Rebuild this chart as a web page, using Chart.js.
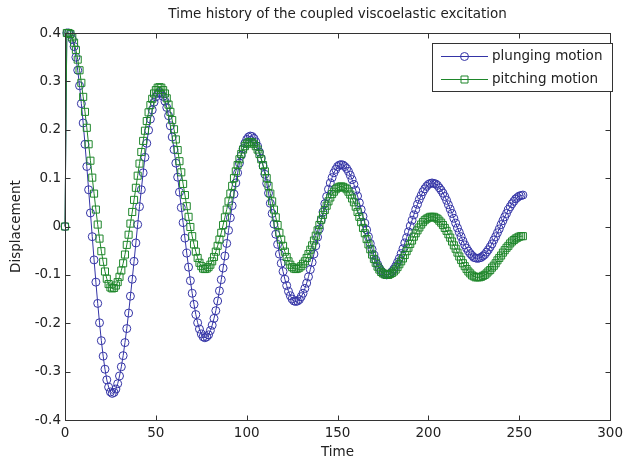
<!DOCTYPE html>
<html>
<head>
<meta charset="utf-8">
<script src="https://cdn.jsdelivr.net/npm/chart.js@4.4.0/dist/chart.umd.min.js"></script>
<style>
  html, body { margin: 0; padding: 0; background: #fff; }
</style>
</head>
<body>
<canvas id="myChart" width="628" height="462"></canvas>
<script>
// sampled once per time unit, starting at t = 0
var t0 = 0;
var dt = 1;

var plunging = [
  0, 0.4,
  0.400, 0.397, 0.387, 0.372, 0.350, 0.323, 0.291, 0.254, 0.214, 0.170, 0.124, 0.076, 0.028,
  -0.021, -0.069, -0.115, -0.159, -0.199, -0.236, -0.268, -0.295, -0.317, -0.332, -0.342, -0.345,
  -0.343, -0.336, -0.325, -0.309, -0.290, -0.267, -0.240, -0.211, -0.179, -0.144, -0.109, -0.072, -0.034,
  0.004, 0.041, 0.076, 0.111, 0.143, 0.172, 0.199, 0.222, 0.241, 0.257, 0.268, 0.275, 0.277,
  0.275, 0.269, 0.259, 0.246, 0.229, 0.208, 0.185, 0.159, 0.131, 0.102, 0.071, 0.039, 0.008,
  -0.024, -0.055, -0.084, -0.112, -0.138, -0.161, -0.182, -0.199, -0.212, -0.222, -0.228, -0.230,
  -0.228, -0.224, -0.215, -0.204, -0.190, -0.174, -0.154, -0.133, -0.110, -0.086, -0.061, -0.035, -0.008,
  0.018, 0.043, 0.067, 0.090, 0.111, 0.131, 0.147, 0.161, 0.172, 0.180, 0.185, 0.187,
  0.186, 0.182, 0.175, 0.166, 0.154, 0.141, 0.125, 0.108, 0.089, 0.069, 0.048, 0.027, 0.005,
  -0.016, -0.037, -0.057, -0.076, -0.093, -0.109, -0.122, -0.134, -0.143, -0.150, -0.154, -0.155,
  -0.154, -0.151, -0.145, -0.138, -0.128, -0.117, -0.104, -0.089, -0.074, -0.057, -0.040, -0.022, -0.005,
  0.013, 0.030, 0.047, 0.062, 0.077, 0.090, 0.101, 0.111, 0.118, 0.124, 0.127, 0.128,
  0.127, 0.124, 0.120, 0.114, 0.106, 0.097, 0.087, 0.075, 0.063, 0.049, 0.035, 0.021, 0.007,
  -0.007, -0.021, -0.035, -0.047, -0.059, -0.069, -0.078, -0.086, -0.092, -0.096, -0.099, -0.100,
  -0.099, -0.097, -0.093, -0.088, -0.082, -0.074, -0.066, -0.056, -0.046, -0.034, -0.023, -0.011, 0.001,
  0.013, 0.024, 0.035, 0.046, 0.056, 0.064, 0.072, 0.078, 0.083, 0.087, 0.089, 0.090,
  0.089, 0.088, 0.085, 0.080, 0.075, 0.069, 0.062, 0.054, 0.045, 0.036, 0.027, 0.017, 0.007,
  -0.003, -0.012, -0.021, -0.030, -0.038, -0.045, -0.051, -0.056, -0.060, -0.064, -0.065, -0.066,
  -0.065, -0.064, -0.061, -0.058, -0.053, -0.048, -0.042, -0.036, -0.028, -0.021, -0.013, -0.005,
  0.004, 0.012, 0.020, 0.027, 0.035, 0.041, 0.047, 0.052, 0.057, 0.060, 0.063, 0.064, 0.065
];

var pitching = [
  0, 0.4,
  0.400, 0.398, 0.391, 0.380, 0.365, 0.345, 0.323, 0.297, 0.268, 0.237, 0.204, 0.170, 0.136,
  0.101, 0.068, 0.035, 0.004, -0.025, -0.051, -0.073, -0.093, -0.108, -0.119, -0.126, -0.128,
  -0.127, -0.122, -0.115, -0.104, -0.091, -0.076, -0.058, -0.038, -0.017, 0.006, 0.030, 0.055, 0.080,
  0.105, 0.130, 0.154, 0.177, 0.198, 0.218, 0.236, 0.251, 0.264, 0.275, 0.282, 0.287, 0.288,
  0.287, 0.282, 0.275, 0.265, 0.252, 0.237, 0.220, 0.201, 0.180, 0.158, 0.135, 0.112, 0.088,
  0.065, 0.042, 0.020, -0.001, -0.020, -0.037, -0.052, -0.065, -0.075, -0.082, -0.087, -0.088,
  -0.087, -0.084, -0.079, -0.072, -0.063, -0.052, -0.040, -0.027, -0.013, 0.003, 0.019, 0.035, 0.052,
  0.068, 0.084, 0.100, 0.114, 0.127, 0.139, 0.150, 0.159, 0.166, 0.171, 0.174, 0.175,
  0.174, 0.171, 0.166, 0.159, 0.150, 0.139, 0.127, 0.114, 0.100, 0.084, 0.068, 0.052, 0.035,
  0.019, 0.003, -0.013, -0.027, -0.040, -0.052, -0.063, -0.072, -0.079, -0.084, -0.087, -0.088,
  -0.087, -0.085, -0.082, -0.077, -0.072, -0.065, -0.057, -0.048, -0.039, -0.029, -0.019, -0.008, 0.003,
  0.014, 0.024, 0.034, 0.043, 0.052, 0.060, 0.067, 0.072, 0.077, 0.080, 0.082, 0.083,
  0.082, 0.080, 0.077, 0.072, 0.066, 0.058, 0.050, 0.041, 0.030, 0.020, 0.009, -0.003, -0.014,
  -0.026, -0.037, -0.047, -0.058, -0.067, -0.075, -0.083, -0.089, -0.094, -0.097, -0.099, -0.100,
  -0.100, -0.098, -0.096, -0.093, -0.089, -0.084, -0.078, -0.072, -0.066, -0.059, -0.051, -0.044, -0.036,
  -0.029, -0.021, -0.014, -0.008, -0.002, 0.004, 0.009, 0.013, 0.016, 0.018, 0.020, 0.020,
  0.020, 0.018, 0.016, 0.012, 0.008, 0.003, -0.003, -0.009, -0.016, -0.023, -0.031, -0.039, -0.046,
  -0.054, -0.062, -0.069, -0.076, -0.082, -0.088, -0.093, -0.097, -0.101, -0.103, -0.105, -0.105,
  -0.105, -0.104, -0.102, -0.100, -0.097, -0.093, -0.090, -0.085, -0.081, -0.076, -0.070, -0.065,
  -0.060, -0.054, -0.049, -0.044, -0.040, -0.035, -0.031, -0.028, -0.025, -0.023, -0.021, -0.020, -0.020
];

var seriesNames = ["plunging motion", "pitching motion"];
var xTicks = [0, 50, 100, 150, 200, 250, 300];
var yTicks = [-0.4, -0.3, -0.2, -0.1, 0, 0.1, 0.2, 0.3, 0.4];

var blue = "#3434a6";
var green = "#1e862a";
var axisColor = "#333";
var textColor = "#222";
var fontFamily = "'DejaVu Sans', sans-serif";
var fontSize = 13.5;

function toPoints(arr) {
  return arr.map((v, i) => ({ x: t0 + i * dt, y: v }));
}

// matlab style box, inward ticks and legend inside the axes
const matlabBox = {
  id: "matlabBox",
  afterDraw(chart) {
    const { ctx, chartArea: a, scales } = chart;
    const xs = scales.x, ys = scales.y;
    const L = Math.round(a.left) + 0.5, R = Math.round(a.right) + 0.5;
    const T = Math.round(a.top) + 0.5, B = Math.round(a.bottom) + 0.5;
    ctx.save();
    ctx.strokeStyle = axisColor;
    ctx.lineWidth = 1;
    ctx.strokeRect(L, T, R - L, B - T);
    ctx.beginPath();
    xTicks.forEach((v) => {
      const px = Math.round(xs.getPixelForValue(v)) + 0.5;
      ctx.moveTo(px, B); ctx.lineTo(px, B - 5);
      ctx.moveTo(px, T); ctx.lineTo(px, T + 5);
    });
    yTicks.forEach((v) => {
      const py = Math.round(ys.getPixelForValue(v)) + 0.5;
      ctx.moveTo(L, py); ctx.lineTo(L + 5, py);
      ctx.moveTo(R, py); ctx.lineTo(R - 5, py);
    });
    ctx.stroke();

    // legend
    const bx = 432.5, by = 43.5, bw = 180, bh = 48;
    ctx.fillStyle = "#fff";
    ctx.fillRect(bx, by, bw, bh);
    ctx.strokeStyle = axisColor;
    ctx.strokeRect(bx, by, bw, bh);
    const rows = [56.5, 79.5];
    chart.data.datasets.forEach((ds, i) => {
      const y = rows[i];
      ctx.strokeStyle = ds.borderColor;
      ctx.lineWidth = 1;
      ctx.beginPath();
      ctx.moveTo(441, y); ctx.lineTo(488, y);
      ctx.stroke();
      ctx.beginPath();
      if (ds.pointStyle === "rect") {
        ctx.rect(461, y - 3.5, 7, 7);
      } else {
        ctx.arc(464.5, y, 4, 0, Math.PI * 2);
      }
      ctx.stroke();
      ctx.fillStyle = textColor;
      ctx.font = fontSize + "px " + fontFamily;
      ctx.textBaseline = "middle";
      ctx.textAlign = "left";
      ctx.fillText(ds.label, 492, y);
    });
    ctx.restore();
  },
};

function initChart() {
  const ctx = document.getElementById("myChart").getContext("2d");
  const myChart = new Chart(ctx, {
    type: "line",
    data: {
      datasets: [
        {
          label: seriesNames[0],
          data: toPoints(plunging),
          borderColor: blue,
          borderWidth: 1,
          pointStyle: "circle",
          pointRadius: 4,
          pointBorderWidth: 1,
          pointBorderColor: blue,
          pointBackgroundColor: "rgba(0,0,0,0)",
          fill: false,
          tension: 0,
          clip: false,
          order: 1,
        },
        {
          label: seriesNames[1],
          data: toPoints(pitching),
          borderColor: green,
          borderWidth: 1,
          pointStyle: "rect",
          pointRadius: 5,
          pointBorderWidth: 1,
          pointBorderColor: green,
          pointBackgroundColor: "rgba(0,0,0,0)",
          fill: false,
          tension: 0,
          clip: false,
          order: 0,
        },
      ],
    },
    options: {
      responsive: false,
      animation: false,
      layout: { padding: { left: 0, right: 11, top: 0, bottom: 0 } },
      plugins: {
        legend: { display: false },
        tooltip: { enabled: false },
        title: {
          display: true,
          fullSize: false,
          text: "Time history of the coupled viscoelastic excitation",
          color: textColor,
          font: { family: fontFamily, size: fontSize, weight: "normal" },
          padding: { top: 6, bottom: 10.8 },
        },
      },
      scales: {
        x: {
          type: "linear",
          min: 0,
          max: 300,
          afterBuildTicks: (s) => { s.ticks = xTicks.map((v) => ({ value: v })); },
          ticks: {
            color: textColor,
            font: { family: fontFamily, size: fontSize },
            padding: 5,
            maxRotation: 0,
            callback: (v) => String(v),
          },
          grid: { display: false, drawTicks: false },
          border: { display: false },
          title: {
            display: true,
            text: "Time",
            color: textColor,
            font: { family: fontFamily, size: fontSize },
            padding: { top: 0, bottom: 1 },
          },
          afterFit: (s) => { s.height = 42; },
        },
        y: {
          min: -0.4,
          max: 0.4,
          afterBuildTicks: (s) => { s.ticks = yTicks.map((v) => ({ value: v })); },
          ticks: {
            color: textColor,
            font: { family: fontFamily, size: fontSize },
            padding: 4,
            callback: (v) => (Math.abs(v) < 1e-9 ? "0" : String(Math.round(v * 10) / 10)),
          },
          grid: { display: false, drawTicks: false },
          border: { display: false },
          title: {
            display: true,
            text: "Displacement",
            color: textColor,
            font: { family: fontFamily, size: fontSize },
            padding: { top: 8, bottom: 0 },
          },
          afterFit: (s) => { s.width = 65; },
        },
      },
    },
    plugins: [matlabBox],
  });
}

initChart();
</script>
</body>
</html>
